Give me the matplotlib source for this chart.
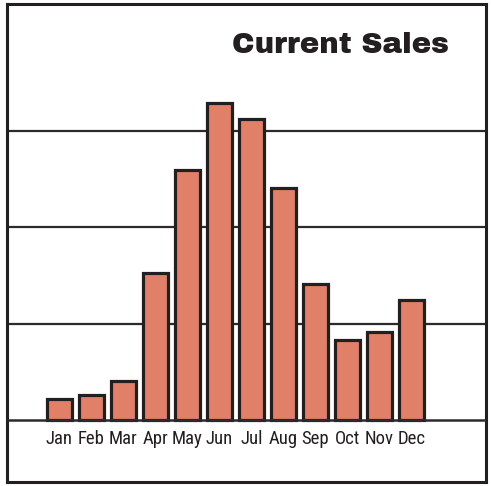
import matplotlib
matplotlib.use("Agg")
import logging
logging.getLogger("matplotlib.font_manager").setLevel(logging.ERROR)
import matplotlib.pyplot as plt

months = ["Jan", "Feb", "Mar", "Apr", "May", "Jun", "Jul", "Aug", "Sep", "Oct", "Nov", "Dec"]
sales = [22, 26, 40, 153, 260, 329, 313, 241, 141, 83, 91, 125]
gridlines = [100, 200, 300]
title = "Current Sales"

W, H = 491, 486
fig = plt.figure(figsize=(W / 100, H / 100), dpi=100)
fig.patch.set_facecolor("white")

left, right, top, bottom = 7, 486, 4, 482
ax = fig.add_axes([left / W, 1 - bottom / H, (right - left) / W, (bottom - top) / H])
ax.set_xlim(-1.64, 13.33)
ax.set_ylim(-64.5, 432)
for s in ax.spines.values():
    s.set_linewidth(2.2)
    s.set_color("#231f20")
ax.set_xticks([])
ax.set_yticks([])

for g in gridlines:
    ax.axhline(g, color="#2b2b2b", lw=1.6, zorder=1)
ax.axhline(0, color="#2b2b2b", lw=1.8, zorder=3)

x = list(range(len(months)))
ax.bar(x, sales, width=0.78, color="#e08068", edgecolor="#231f20", linewidth=2.3, zorder=2)

label_fonts = ["Roboto Condensed", "Archivo Narrow", "Sofia Sans Condensed", "Liberation Sans Narrow", "DejaVu Sans"]
for xi, m in zip(x, months):
    ax.text(xi, -20, m, ha="center", va="center", fontsize=13.5,
            family=label_fonts, color="#231f20")

title_fonts = ["Archivo Black", "Anton", "DejaVu Sans"]
ax.text(0.923, 0.914, title, transform=ax.transAxes, ha="right", va="center",
        fontsize=21, fontweight="bold", family=title_fonts, color="#231f20")

fig.savefig("out.png", dpi=100, facecolor="white")
